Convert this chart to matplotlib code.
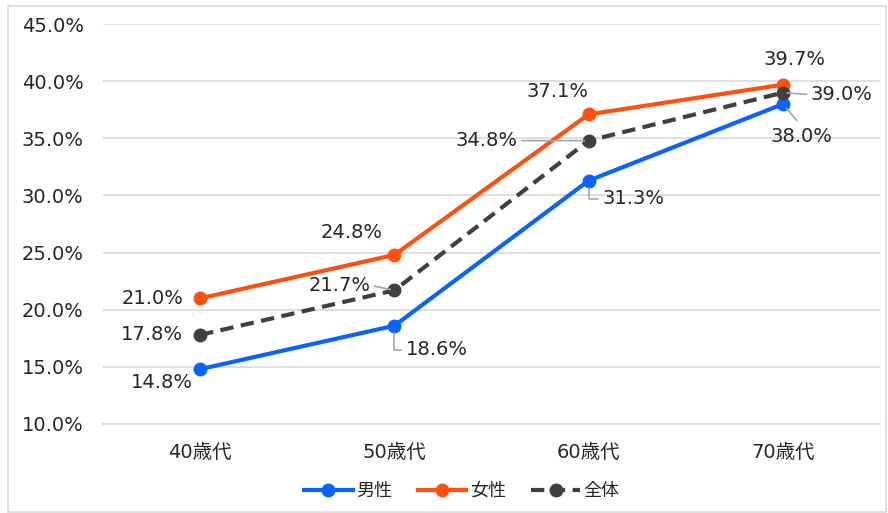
import matplotlib
matplotlib.use("Agg")
import matplotlib.pyplot as plt
from matplotlib.patches import Rectangle
from matplotlib.ticker import FuncFormatter, MultipleLocator

plt.rcParams['font.family'] = ['DejaVu Sans', 'Noto Sans CJK JP']

categories = ['40歳代', '50歳代', '60歳代', '70歳代']
male = [14.8, 18.6, 31.3, 38.0]
female = [21.0, 24.8, 37.1, 39.7]
total = [17.8, 21.7, 34.8, 39.0]
series_names = ['男性', '女性', '全体']

# label offsets in pixels (dx, dy) and leader style
male_off = [(-38, -13, None), (42, -24, 'angle'), (45, -18, 'angle'), (19, -32, 'straight')]
female_off = [(-48, 0, None), (-43, 22, None), (-31, 23, None), (12, 25, None)]
total_off = [(-48, 0, None), (-55, 5, 'right'), (-102, 0, 'right'), (59, -2, 'left')]

fig = plt.figure(figsize=(8.88, 5.13), dpi=100)
ax = fig.add_axes([0.116, 0.1735, 0.875, 0.7795])

x = list(range(len(categories)))
cols = {'男性': '#0A64FA', '女性': '#FF5010', '全体': '#404040'}

ax.plot(x, male, color=cols['男性'], lw=3, marker='o', ms=9, label=series_names[0], zorder=3)
ax.plot(x, female, color=cols['女性'], lw=3, marker='o', ms=9, label=series_names[1], zorder=3)
ax.plot(x, total, color=cols['全体'], lw=3, marker='o', ms=9, ls=(0, (3.2, 1.8)),
        label=series_names[2], zorder=4)

lc = '#A6A6A6'
def label(vals, offs):
    for i, (v, (dx, dy, st)) in enumerate(zip(vals, offs)):
        kw = dict(xy=(i, v), xytext=(dx, dy), textcoords='offset pixels',
                  ha='center', va='center', fontsize=14, color='#262626', zorder=5)
        if st == 'angle':
            kw['arrowprops'] = dict(arrowstyle='-', color=lc, lw=1.2, relpos=(0, 0.5),
                                    connectionstyle='angle,angleA=0,angleB=90,rad=0',
                                    shrinkA=1, shrinkB=5)
        elif st == 'straight':
            kw['arrowprops'] = dict(arrowstyle='-', color=lc, lw=1.2, relpos=(0.5, 1),
                                    shrinkA=3, shrinkB=4)
        elif st == 'right':
            kw['arrowprops'] = dict(arrowstyle='-', color=lc, lw=1.2, relpos=(1, 0.5),
                                    shrinkA=1, shrinkB=3)
        elif st == 'left':
            kw['arrowprops'] = dict(arrowstyle='-', color=lc, lw=1.2, relpos=(0, 0.5),
                                    shrinkA=1, shrinkB=3)
        ax.annotate(f'{v:.1f}%', **kw)

label(male, male_off)
label(female, female_off)
label(total, total_off)

ax.set_xlim(-0.5, 3.5)
ax.set_ylim(10, 45)
ax.yaxis.set_major_locator(MultipleLocator(5))
ax.yaxis.set_major_formatter(FuncFormatter(lambda v, p: f'{v:.1f}%'))
ax.set_xticks(x)
ax.set_xticklabels(categories)
ax.tick_params(axis='y', length=0, pad=14, labelsize=14, labelcolor='#262626')
ax.tick_params(axis='x', length=0, pad=14, labelsize=14, labelcolor='#262626')
ax.grid(axis='y', color='#D9D9D9', lw=1.2)
ax.set_axisbelow(True)
for s in ax.spines.values():
    s.set_visible(False)
ax.spines['bottom'].set_visible(True)
ax.spines['bottom'].set_color('#D9D9D9')
ax.spines['bottom'].set_linewidth(1.2)

leg = fig.legend(loc='center', bbox_to_anchor=(0.52, 0.043), ncol=3, frameon=False,
                 fontsize=13, handlelength=2.7, columnspacing=1.4, handletextpad=0.2)
for t in leg.get_texts():
    t.set_color('#262626')

fig.patches.append(Rectangle((8/888, 0.002), 878/888, 1-5/513-0.004, transform=fig.transFigure,
                             fill=False, edgecolor='#D9D9D9', lw=1.2))

fig.savefig('out.png', dpi=100)
